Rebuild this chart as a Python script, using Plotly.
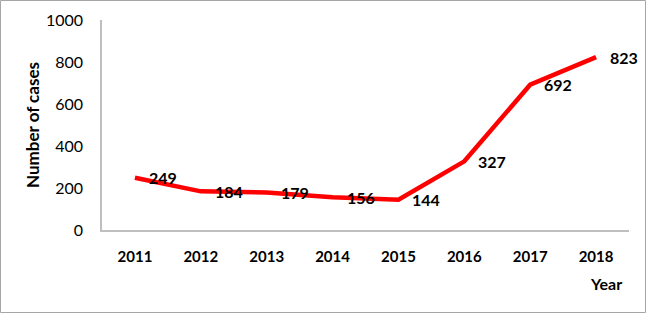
import plotly.graph_objects as go

years = ["2011", "2012", "2013", "2014", "2015", "2016", "2017", "2018"]
cases = [249, 184, 179, 156, 144, 327, 692, 823]
y_ticks = [0, 200, 400, 600, 800, 1000]

W, H = 646, 313
L, R, T, B = 102, 17, 20, 83
pw, ph = W - L - R, H - T - B

fig = go.Figure()
fig.add_trace(go.Scatter(
    x=years, y=cases, mode="lines",
    line=dict(color="#ff0000", width=4.5),
    hoverinfo="skip",
))

def px_x(p):
    return (p - L) / pw

def px_y(p):
    return (H - B - p) / ph

label_font = dict(family="Lato", size=16, color="#000000", weight="bold")
annotations = [dict(
    x=i, y=v, xref="x", yref="y", text=str(v), showarrow=False,
    xanchor="left", yanchor="middle", xshift=12, font=label_font,
) for i, v in enumerate(cases)]
annotations.append(dict(
    text="Year", xref="paper", yref="paper",
    x=px_x(606), y=px_y(283), xanchor="center", yanchor="middle",
    showarrow=False, font=label_font,
))

fig.update_layout(
    width=W, height=H,
    margin=dict(l=L, r=R, t=T, b=B, autoexpand=False),
    paper_bgcolor="white", plot_bgcolor="white",
    showlegend=False,
    font=dict(family="Lato", color="#000000"),
    xaxis=dict(
        type="category", range=[-0.5, 7.5], showgrid=False,
        showline=True, linecolor="#bfbfbf", linewidth=1.5,
        ticks="", ticklabelstandoff=12, automargin=False,
        tickfont=dict(family="Lato", size=15, weight="bold", color="#000000"),
        zeroline=False,
    ),
    yaxis=dict(
        range=[0, 1000], tickvals=y_ticks, showgrid=False,
        showline=True, linecolor="#bfbfbf", linewidth=1.5,
        ticks="", ticklabelstandoff=14, automargin=False,
        tickfont=dict(family="Lato", size=16, color="#000000"),
        zeroline=False,
        title=dict(text="Number of cases", standoff=2,
                   font=dict(family="Lato", size=17, weight="bold", color="#000000")),
    ),
    annotations=annotations,
    shapes=[dict(
        type="rect", xref="paper", yref="paper",
        x0=px_x(0.5), x1=px_x(W - 0.5), y0=px_y(H - 0.5), y1=px_y(0.5),
        line=dict(color="#a6a6a6", width=1), fillcolor="rgba(0,0,0,0)",
        layer="below",
    )],
)

fig.write_html(
    "out.html",
    config={"displayModeBar": False},
    post_script="document.body.style.margin='0';document.body.style.overflow='hidden';",
)
